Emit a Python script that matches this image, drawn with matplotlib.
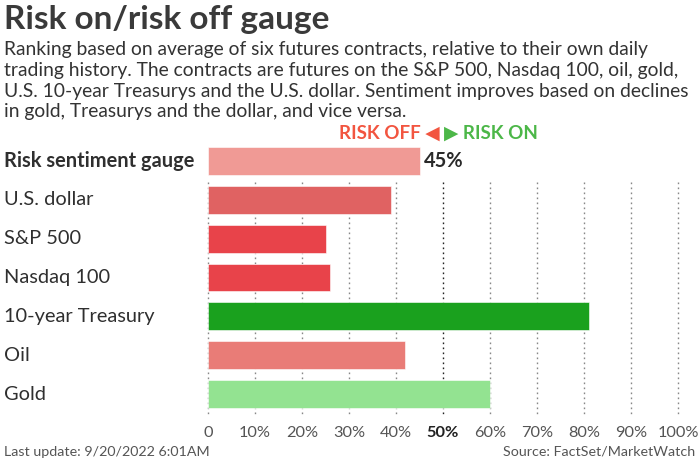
import matplotlib.pyplot as plt

# chart data
labels = ["Risk sentiment gauge", "U.S. dollar", "S&P 500", "Nasdaq 100",
          "10-year Treasury", "Oil", "Gold"]
values = [45, 39, 25, 26, 81, 42, 60]
colors = ["#F09A95", "#E06262", "#E8434A", "#E8434A", "#1AA11E", "#E97C77", "#93E391"]
tick_values = [0, 10, 20, 30, 40, 50, 60, 70, 80, 90, 100]
tick_labels = ["0", "10%", "20%", "30%", "40%", "50%", "60%", "70%", "80%", "90%", "100%"]

plt.rcParams["font.family"] = ["Lato", "DejaVu Sans"]

W, H = 700, 462
fig = plt.figure(figsize=(W / 100, H / 100), dpi=100)


def px(x, y):
    return x / W, 1 - y / H


# title and subtitle
fig.text(*px(4, 29), "Risk on/risk off gauge", fontsize=24, fontweight="bold",
         color="#3a3a3a", va="baseline")
subtitle = ["Ranking based on average of six futures contracts, relative to their own daily",
            "trading history. The contracts are futures on the S&P 500, Nasdaq 100, oil, gold,",
            "U.S. 10-year Treasurys and the U.S. dollar. Sentiment improves based on declines",
            "in gold, Treasurys and the dollar, and vice versa."]
for i, line in enumerate(subtitle):
    fig.text(*px(4, 55 + i * 20.8), line, fontsize=13.9, color="#333333", va="baseline")

# axes
ax = fig.add_axes([208 / W, 1 - 415 / H, 470 / W, 275 / H])
y = list(range(len(labels)))
ax.barh(y, values, height=0.72, color=colors, edgecolor="white", linewidth=0.4, zorder=3)
ax.set_xlim(0, 100)
ax.set_ylim(6.54, -0.54)

# dotted gridlines below the gauge row
for t in tick_values:
    col = "#222222" if t == 50 else "#888888"
    ax.vlines(t, 0.54, 6.54, colors=col, linestyles=(0, (1.2, 2.4)), linewidth=1.0,
              zorder=1, clip_on=False)

for s in ax.spines.values():
    s.set_visible(False)
ax.set_yticks([])
ax.set_xticks(tick_values)
ax.set_xticklabels(tick_labels)
ax.tick_params(axis="x", length=0, pad=8, labelsize=11.8, labelcolor="#555555")
for lab in ax.get_xticklabels():
    if lab.get_text() == "50%":
        lab.set_fontweight("bold")
        lab.set_color("#222222")

# row labels
for i, lab in enumerate(labels):
    ax.text(-204 / 470 * 100, i, lab, fontsize=14.4, color="#2f2f2f", va="center",
            ha="left", fontweight="bold" if i == 0 else "normal", clip_on=False)

# gauge value
ax.text(values[0] + 0.9, 0, f"{values[0]}%", fontsize=14.4, fontweight="bold",
        color="#2a2a2a", va="center", ha="left")

# risk off / risk on legend
fig.text(*px(440, 133), "RISK OFF \u25C0", fontsize=13.5, fontweight="bold",
         color="#F25540", ha="right", va="center", family=["Lato", "DejaVu Sans"])
fig.text(*px(444, 133), "\u25B6 RISK ON", fontsize=13.5, fontweight="bold",
         color="#4CB748", ha="left", va="center", family=["Lato", "DejaVu Sans"])

# footer
fig.text(*px(4, 452), "Last update: 9/20/2022 6:01AM", fontsize=10.3,
         color="#555555", va="center")
fig.text(*px(695, 452), "Source: FactSet/MarketWatch", fontsize=10.3,
         color="#555555", va="center", ha="right")

fig.savefig("out.png", dpi=100)
